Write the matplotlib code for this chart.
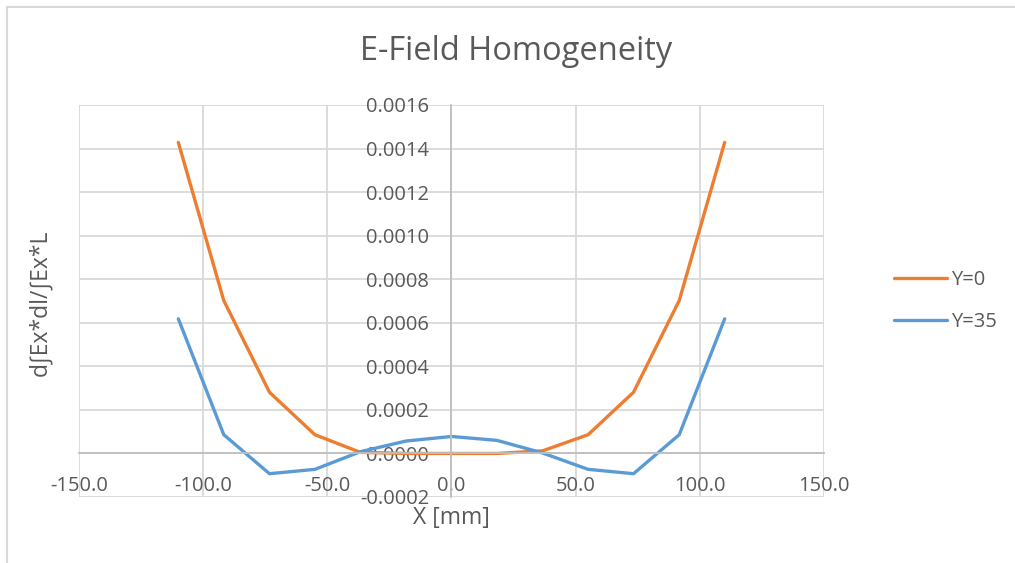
import numpy as np
import matplotlib.pyplot as plt
from matplotlib.lines import Line2D

# data
x_mm = [-110.0, -91.7, -73.3, -55.0, -36.7, -18.3, 0.0, 18.3, 36.7, 55.0, 73.3, 91.7, 110.0]
y0 = [0.001428, 0.000702, 0.000281, 0.000086, 0.000005, 0.0, 0.0,
      0.0, 0.000012, 0.000086, 0.000281, 0.000702, 0.001428]
y35 = [0.000618, 0.000086, -0.000093, -0.000073, 0.000008, 0.000057, 0.000078,
       0.000060, 0.000002, -0.000073, -0.000093, 0.000086, 0.000618]
series_names = ['Y=0', 'Y=35']

grey = '#595959'
plt.rcParams['font.family'] = ['Open Sans', 'DejaVu Sans']

fig = plt.figure(figsize=(10.15, 5.63), dpi=100)
ax = fig.add_axes([79 / 1015, 1 - 497 / 563, (824 - 79) / 1015, (497 - 105) / 563])

ax.plot(x_mm, y0, color='#ED7D31', lw=2.4, label=series_names[0], solid_capstyle='round')
ax.plot(x_mm, y35, color='#5B9BD5', lw=2.4, label=series_names[1], solid_capstyle='round')

ax.set_xlim(-150, 150)
ax.set_ylim(-0.0002, 0.0016)
ax.set_xticks(np.arange(-150, 151, 50))
ax.set_yticks(np.arange(-0.0002, 0.00161, 0.0002))
ax.xaxis.set_major_formatter(plt.FuncFormatter(lambda v, p: f'{v:.1f}'))
ax.yaxis.set_major_formatter(plt.FuncFormatter(lambda v, p: f'{v:.4f}'))
ax.grid(True, color='#d9d9d9', lw=1.3)

for s in ['top', 'right']:
    ax.spines[s].set_visible(False)
ax.spines['left'].set_position(('data', 0))
ax.spines['bottom'].set_position(('data', 0))
ax.spines['left'].set_color('#bfbfbf')
ax.spines['bottom'].set_color('#bfbfbf')
ax.spines['left'].set_linewidth(1.3)
ax.spines['bottom'].set_linewidth(1.3)
ax.tick_params(axis='both', length=0, labelsize=14.5, labelcolor=grey)
ax.tick_params(axis='y', pad=16)
ax.tick_params(axis='x', pad=16)

fig.text(451 / 1015, 1 - 518 / 563, 'X [mm]', ha='center', va='center', fontsize=16.5, color=grey)
fig.text(40 / 1015, 1 - 303 / 563, 'd∫Ex*dl/∫Ex*L', ha='center', va='center',
         rotation=90, fontsize=16.5, color=grey)
fig.text(516 / 1015, 1 - 51 / 563, 'E-Field Homogeneity', ha='center', va='center',
         fontsize=23.5, color=grey)

ax.legend(loc='center left', bbox_to_anchor=(1.07, 0.5), frameon=False, fontsize=14.5,
          labelcolor=grey, handlelength=2.6, handletextpad=0.2, labelspacing=1.1)

# chart border (left and top edges visible)
fig.add_artist(Line2D([7 / 1015, 7 / 1015], [0, 1 - 7 / 563], transform=fig.transFigure, color='#d9d9d9', lw=1.5))
fig.add_artist(Line2D([7 / 1015, 1], [1 - 7 / 563, 1 - 7 / 563], transform=fig.transFigure, color='#d9d9d9', lw=1.5))

fig.savefig('out.png', dpi=100)
